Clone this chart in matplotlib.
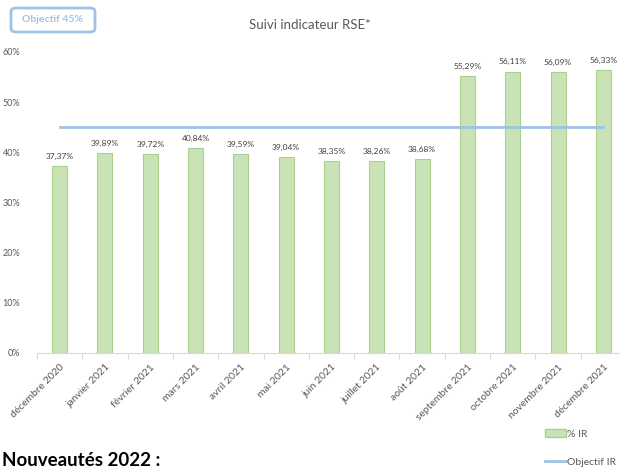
import matplotlib
matplotlib.use('Agg')
import matplotlib.pyplot as plt
from matplotlib.patches import FancyBboxPatch, Patch
from matplotlib.lines import Line2D
import numpy as np

# data
mois = ['décembre 2020', 'janvier 2021', 'février 2021', 'mars 2021', 'avril 2021',
        'mai 2021', 'juin 2021', 'juillet 2021', 'août 2021', 'septembre 2021',
        'octobre 2021', 'novembre 2021', 'décembre 2021']
ir = [37.37, 39.89, 39.72, 40.84, 39.59, 39.04, 38.35, 38.26, 38.68,
      55.29, 56.11, 56.09, 56.33]
objectif = 45
yticks = [0, 10, 20, 30, 40, 50, 60]

plt.rcParams['font.family'] = ['Lato', 'DejaVu Sans']
gris = '#595959'
vert = '#c9e3b6'
vert_bord = '#a9d18e'
bleu = '#9dc3e6'

fig = plt.figure(figsize=(6.2, 4.68), dpi=100)
ax = fig.add_axes([37/620, 1-353/468, 589/620, 301/468])

x = np.arange(len(mois))
ax.bar(x, ir, width=0.33, color=vert, edgecolor=vert_bord, linewidth=0.8, zorder=2)
ax.plot(x, [objectif]*len(mois), color=bleu, linewidth=2, zorder=3)

for xi, v in zip(x, ir):
    ax.text(xi, v + 1.2, ('%.2f' % v).replace('.', ',') + '%', ha='center', va='bottom',
            fontsize=6, color='#404040')

ax.set_xlim(-0.5, len(mois) - 0.5)
ax.set_ylim(0, 60)
ax.set_yticks(yticks)
ax.set_yticklabels([f'{t}%' for t in yticks], fontsize=6.5, color=gris)
ax.set_xticks(x - 0.5, minor=False)
ax.set_xticklabels([])
ax.set_xticks(x, minor=True)
ax.set_xticklabels(mois, minor=True, rotation=45, ha='right', rotation_mode='anchor',
                   fontsize=7.5, color=gris)
ax.tick_params(axis='x', which='major', length=4, color='#d9d9d9')
ax.tick_params(axis='x', which='minor', length=0, pad=7)
ax.tick_params(axis='y', length=0, pad=12)
for s in ['top', 'right', 'left']:
    ax.spines[s].set_visible(False)
ax.spines['bottom'].set_color('#d9d9d9')

fig.text(310/620, 1-25/468, 'Suivi indicateur RSE*', ha='center', va='center',
         fontsize=9.5, color=gris)

# encadre objectif
box = FancyBboxPatch((11/620, 1-32/468), 84/620, 24/468,
                     boxstyle='round,pad=0,rounding_size=0.008',
                     transform=fig.transFigure, facecolor='white', edgecolor=bleu,
                     linewidth=2)
fig.patches.append(box)
fig.text(52/620, 1-20/468, 'Objectif 45%', ha='center', va='center', fontsize=7.5,
         fontweight='bold', color=bleu)

# legende
fig.legend(handles=[Patch(facecolor=vert, edgecolor=vert_bord, label='% IR')],
           loc='center left', bbox_to_anchor=(545/620, 1-434/468), frameon=False,
           fontsize=7.5, handlelength=2.0, handletextpad=0.15, labelcolor=gris,
           borderpad=0, borderaxespad=0)
fig.legend(handles=[Line2D([], [], color=bleu, linewidth=2, label='Objectif IR')],
           loc='center left', bbox_to_anchor=(545/620, 1-462/468), frameon=False,
           fontsize=7.5, handlelength=2.0, handletextpad=0.15, labelcolor=gris,
           borderpad=0, borderaxespad=0)

fig.text(2/620, 1-466/468, 'Nouveautés 2022 :', ha='left', va='baseline', fontsize=13.5,
         fontweight='bold', color='black')

fig.savefig('out.png', dpi=100)
